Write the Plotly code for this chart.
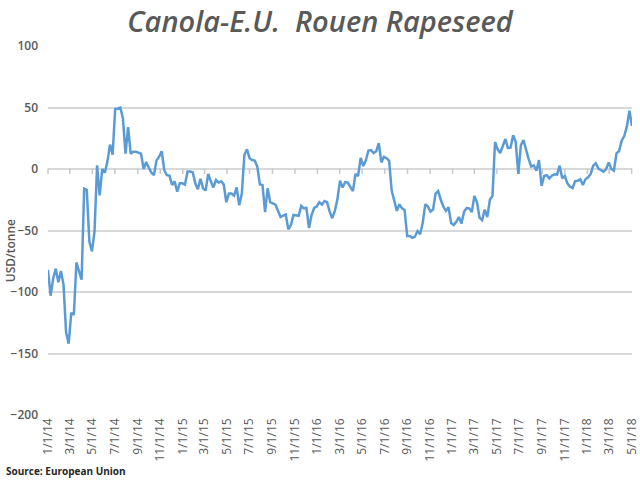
import pandas as pd
import plotly.graph_objects as go

# weekly spread, USD/tonne
spread = [
    -82, -103, -89, -81, -92, -83, -94, -133, -142, -117, -118.5, -76, -83, -90, -16, -17,
    -59, -67, -51, 3, -21.5, 0, -3, 6, 19.8, 11.6, 48.8, 49, 50, 41, 12.5, 34,
    12.5, 14, 14, 13, 12.5, 0, 5.7, 1, -3, -5, 7, 10, 14.4, -1, -5, -5.4,
    -13, -10, -18.4, -11.6, -11.6, -12.7, -2, -2, -2.7, -11.6, -16.5, -8, -15.7, -17.6, -4, -10,
    -15, -9, -11, -10, -12.5, -27, -20, -20, -21.7, -15, -29.5, -20, 11.4, 16, 8.7, 7.3,
    6.8, 2, -12.5, -13, -35, -15.7, -27, -28, -29, -34, -39, -38, -37, -49, -45.5, -37.4,
    -38, -38, -30, -32, -31.7, -48, -37.4, -31.7, -30.6, -27, -29, -26, -27, -34.7, -40, -34,
    -24.7, -9.5, -15, -10.6, -11, -15, -18, -4, -5.7, 9, 2.4, 7, 15, 15.4, 13, 14.4,
    21, 5.4, 10, 8.7, 6.8, -17.6, -25, -34, -28.7, -32, -33.3, -54.5, -54.5, -56, -55, -50.4,
    -53, -44, -28.7, -30.6, -34.7, -33, -20, -18, -25, -30.6, -34, -31, -44, -45.5, -43, -39,
    -44.4, -34.7, -31.7, -32, -35, -22, -27, -39.6, -41.5, -33, -39, -25, -22, 22, 16, 13,
    18.7, 24.4, 17, 17.3, 27.4, 22, -4, 19.5, 23.6, 15.4, 8, 2, 3, -1.4, 7.3, -13.8,
    -5.7, -5, -7.6, -5.4, -4.3, -4.6, 2.7, -7.6, -5.7, -11.7, -14.4, -15.4, -9.8, -9.5, -8.4, -13,
    -8.4, -6.8, -4, 2.7, 4.6, 0.3, -0.8, -2.2, 0, 5.4, 0, -1.4, 12.7, 14.6, 23, 26.8,
    34.4, 47.4, 35,
]
dates = pd.date_range("2014-01-01", periods=len(spread), freq="7D")

tick_dates = pd.date_range("2014-01-01", "2018-05-01", freq="2MS")
tick_labels = [f"{d.month}/{d.day}/{d.strftime('%y')}" for d in tick_dates]
y_ticks = [100, 50, 0, -50, -100, -150, -200]

TEXT = "#595959"
GRID = "#d9d9d9"
FONT = "Open Sans"
x_range = ["2014-01-01", "2018-05-02"]

fig = go.Figure()
# tick marks hanging under the zero line, labels stay at the bottom
fig.add_trace(go.Scatter(x=tick_dates, y=[-1.8] * len(tick_dates), mode="markers",
                         marker=dict(symbol="line-ns", size=4, color=GRID,
                                     line=dict(color="#c8c8c8", width=1.5)),
                         hoverinfo="skip", cliponaxis=False))
fig.add_trace(go.Scatter(x=dates, y=spread, mode="lines", hoverinfo="skip",
                         line=dict(color="#5b9bd5", width=2.5)))

fig.update_layout(
    width=640, height=480, autosize=False,
    margin=dict(l=48, r=8, t=46, b=65),
    paper_bgcolor="white", plot_bgcolor="white",
    showlegend=False,
    font=dict(family=FONT, color=TEXT),
    title=dict(text="<i>Canola-E.U.  Rouen Rapeseed</i>", x=0.5, xanchor="center",
               y=0.955, yanchor="middle", font=dict(size=29, color=TEXT, family=FONT, weight=600)),
    xaxis=dict(type="date", range=x_range, tickmode="array", tickvals=tick_dates,
               ticktext=tick_labels, tickangle=-90, showgrid=False, zeroline=False,
               showline=False, ticks="", ticklabeloverflow="allow",
               automargin=False, tickfont=dict(size=12, color=TEXT, family=FONT)),
    yaxis=dict(range=[-200, 100], tickmode="array", tickvals=y_ticks, showgrid=True,
               gridcolor=GRID, gridwidth=1.5, zeroline=False, ticks="", ticklabelstandoff=9,
               automargin=False, tickfont=dict(size=12, color=TEXT, family=FONT, weight=600)),
)
fig.add_annotation(text="USD/tonne", xref="paper", yref="paper", x=-0.065, y=0.444,
                   xanchor="center", yanchor="middle", textangle=-90, showarrow=False,
                   font=dict(size=12, color=TEXT, family=FONT, weight=600))
fig.add_annotation(text="<b>Source: European Union</b>", xref="paper", yref="paper",
                   x=-0.075, y=-0.152, xanchor="left", yanchor="middle", showarrow=False,
                   font=dict(size=10, color="#262626", family=FONT))

# page margin would otherwise push the chart 8px off
fig.write_html("out.html", config=dict(displayModeBar=False),
               post_script="document.body.style.margin='0';")
